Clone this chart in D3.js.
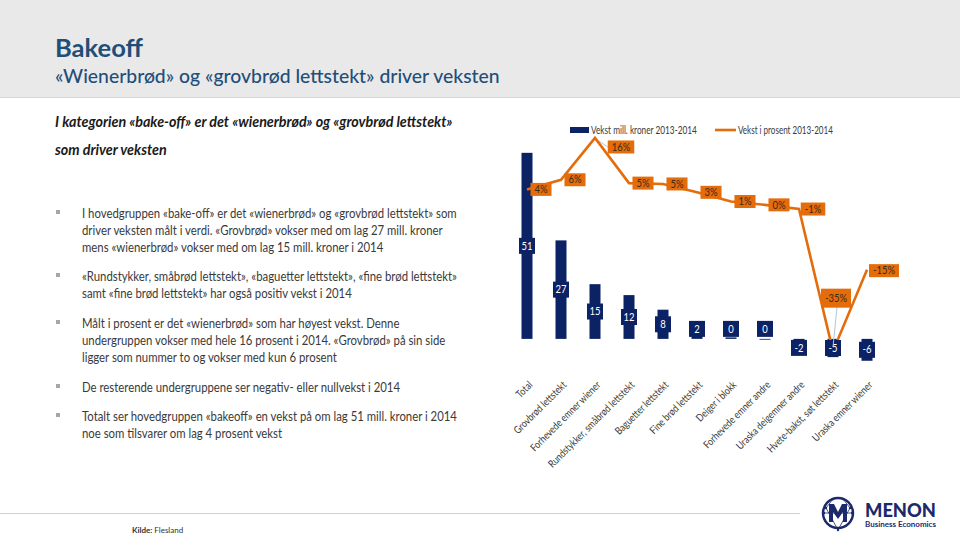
<!DOCTYPE html>
<html><head><meta charset="utf-8">
<script src="https://cdn.jsdelivr.net/npm/d3@7"></script>
<style>
html,body{margin:0;padding:0;background:#fff;}
svg{display:block;font-family:Lato,"Open Sans",sans-serif;}
</style></head>
<body>
<script>
const categories = ["Total","Grovbrød lettstekt","Forhevede emner wiener","Rundstykker, småbrød lettstekt","Baguetter lettstekt","Fine brød lettstekt","Deiger i blokk","Forhevede emner andre","Uraska deigemner andre","Hvete-bakst, søt lettstekt","Uraska emner wiener"];
const growthMNOK = [51, 27, 15, 12, 8, 2, 0.4, 0, -2, -5, -6];
const growthPct = [3.7, 6.0, 16.0, 5.2, 5.0, 3.0, 0.8, 0.0, -1.0, -35.0, -15.5];
const seriesNames = ["Vekst mill. kroner 2013-2014", "Vekst i prosent 2013-2014"];
const titleText = "Bakeoff";
const subtitleText = "«Wienerbrød» og «grovbrød lettstekt» driver veksten";
const leadLines = ["I kategorien «bake-off» er det «wienerbrød» og «grovbrød lettstekt»", "som driver veksten"];
const bullets = [
  ["I hovedgruppen «bake-off» er det «wienerbrød» og «grovbrød lettstekt» som", "driver veksten målt i verdi. «Grovbrød» vokser med om lag 27 mill. kroner", "mens «wienerbrød» vokser med om lag 15 mill. kroner i 2014"],
  ["«Rundstykker, småbrød lettstekt», «baguetter lettstekt», «fine brød lettstekt»", "samt «fine brød lettstekt» har også positiv vekst i 2014"],
  ["Målt i prosent er det «wienerbrød» som har høyest vekst. Denne", "undergruppen vokser med hele 16 prosent i 2014. «Grovbrød» på sin side", "ligger som nummer to og vokser med kun 6 prosent"],
  ["De resterende undergruppene ser negativ- eller nullvekst i 2014"],
  ["Totalt ser hovedgruppen «bakeoff» en vekst på om lag 51 mill. kroner i 2014", "noe som tilsvarer om lag 4 prosent vekst"]
];

const W = 960, H = 541;
const NAVY = "#0b2265", ORANGE = "#e46c0a", TXT = "#3a3a3a";
const svg = d3.select("body").append("svg").attr("width", W).attr("height", H);

// horizontal scale factor so that text of given size reaches target width
function sxFor(txt, size, target, weight, style) {
  const p = svg.append("text").attr("font-size", size).attr("font-weight", weight || 400).attr("font-style", style || "normal").text(txt);
  const w = p.node().getComputedTextLength();
  p.remove();
  return target / w;
}
function stext(parent, x, y, txt, size, sx, weight, style, fill) {
  return parent.append("text").attr("transform", `translate(${x},${y}) scale(${sx},1)`)
    .attr("font-size", size).attr("font-weight", weight || 400).attr("font-style", style || "normal")
    .attr("fill", fill || TXT).text(txt);
}

// header band
svg.append("rect").attr("x",0).attr("y",0).attr("width",W).attr("height",97).attr("fill","#e9e9e9");
svg.append("line").attr("x1",0).attr("x2",W).attr("y1",97.5).attr("y2",97.5).attr("stroke","#d6d6d6");
stext(svg, 55, 57, titleText, 25, sxFor(titleText, 25, 88, 700), 700, "normal", "#1f4e79");
stext(svg, 55, 83, subtitleText, 20, sxFor(subtitleText, 20, 445, 500), 500, "normal", "#1f4e79");

// lead (bold italic)
const leadSx = sxFor(leadLines[0], 14.5, 398, 700, "italic");
leadLines.forEach((ln, j) => stext(svg, 55, 127 + j*28, ln, 14.5, leadSx, 700, "italic", "#1a1a1a"));

// bullets
const bulletY = [213, 276, 323, 387, 416];
const bSize = 13.2;
const bSx = sxFor(bullets[0][0], bSize, 375);
bullets.forEach((lines, i) => {
  const y0 = bulletY[i];
  svg.append("rect").attr("x",56).attr("y",y0-3).attr("width",4).attr("height",4).attr("fill","#a6a6a6");
  lines.forEach((ln, j) => stext(svg, 82, y0 + 4.5 + j*17.3, ln, bSize, bSx));
});

// bottom line + source
svg.append("line").attr("x1",0).attr("x2",800).attr("y1",513.5).attr("y2",513.5).attr("stroke","#d0d0d0");
const src = svg.append("text").attr("x",132).attr("y",533).attr("font-size",8).attr("fill","#333");
src.append("tspan").attr("font-weight",700).text("Kilde: ");
src.append("tspan").text("Flesland");

// scales
const x = d3.scalePoint().domain(categories).range([510, 884]).padding(0.5);
const yL = d3.scaleLinear().domain([-9.9, 60]).range([375, 120]);
const yR = d3.scaleLinear().domain([-40.7, 20.3]).range([375, 120]);
const barW = 11;

// bars
const bars = svg.append("g");
categories.forEach((c, i) => {
  const v = growthMNOK[i];
  const y0 = yL(0), y1 = yL(v);
  bars.append("rect").attr("x", x(c) - barW/2).attr("y", Math.min(y0,y1)).attr("width", barW).attr("height", Math.max(0.8, Math.abs(y1-y0))).attr("fill", NAVY);
});

// x axis labels
const axSize = 10.5;
const axSx = sxFor(categories[3], axSize, 117);
const ax = svg.append("g").attr("transform","translate(0,378)").call(d3.axisBottom(x).tickSize(0));
ax.select(".domain").remove();
ax.selectAll("text").attr("x",0).attr("y",0).attr("dy","0.35em").attr("font-family","Lato, sans-serif").attr("fill",TXT)
  .attr("font-size", axSize).attr("text-anchor","end").attr("transform",`translate(3,5) rotate(-45) scale(${axSx},1)`);

// line
const pts = categories.map((c, i) => [x(c), yR(growthPct[i])]);
svg.append("path").attr("d", d3.line()(pts)).attr("fill","none").attr("stroke",ORANGE).attr("stroke-width",2.6).attr("stroke-linejoin","miter");

// bar labels
const bl = svg.append("g");
categories.forEach((c, i) => {
  const v = growthMNOK[i];
  const y0 = yL(0), y1 = yL(v);
  const h = Math.abs(y1 - y0);
  const bh = 16, bw = 16;
  let cy;
  if (h >= bh + 2) cy = (y0 + y1) / 2;
  else cy = v < 0 ? y0 + 1 + bh/2 : y0 - 2 - bh/2;
  bl.append("rect").attr("x", x(c) - bw/2).attr("y", cy - bh/2).attr("width", bw).attr("height", bh).attr("fill", NAVY);
  bl.append("text").attr("x", x(c)).attr("y", cy).attr("dy","0.35em").attr("text-anchor","middle").attr("font-size",10.5)
    .attr("transform", `translate(${x(c)},0) scale(0.9,1) translate(${-x(c)},0)`).attr("fill","#fff").text(String(Math.round(v)));
});

// line labels
const ll = svg.append("g");
categories.forEach((c, i) => {
  const v = growthPct[i];
  const px = x(c), py = yR(v);
  let cx = px + 14, cy = py;
  const txt = String(Math.round(v)) + "%";
  if (i === 2) { cx = px + 26; cy = py + 9; }
  if (i === 9) { cx = px + 3; cy = py - 53; }
  if (i === 10) { cx = px + 17; cy = py + 1; }
  const t = ll.append("text").attr("transform", `translate(${cx},${cy}) scale(0.9,1)`).attr("dy","0.35em").attr("text-anchor","middle").attr("font-size",10.5).attr("fill","#3b2a1a").text(txt);
  const tw = t.node().getComputedTextLength() * 0.9;
  const bw = tw + 8, bh = 13;
  if (i === 2) {
    ll.insert("line", "text").attr("x1", px + 4).attr("y1", py + 3).attr("x2", cx - bw/2).attr("y2", cy).attr("stroke","#b0b0b0").attr("stroke-width",0.8);
  }
  if (i === 9) {
    ll.insert("line", "text").attr("x1", cx + 1).attr("y1", cy + bh/2 + 2).attr("x2", px).attr("y2", py - 4).attr("stroke","#b8c4d6").attr("stroke-width",1);
  }
  ll.insert("rect", "text").attr("x", cx - bw/2).attr("y", cy - bh/2 - (i===9?3:0)).attr("width", bw).attr("height", bh + (i===9?6:0)).attr("fill", ORANGE);
});

// legend
const lg = svg.append("g");
lg.append("rect").attr("x",570).attr("y",127).attr("width",19).attr("height",6).attr("fill",NAVY);
stext(lg, 591, 133.5, seriesNames[0], 10.5, sxFor(seriesNames[0], 10.5, 106));
lg.append("line").attr("x1",715).attr("x2",736).attr("y1",130).attr("y2",130).attr("stroke",ORANGE).attr("stroke-width",2.6);
stext(lg, 738, 133.5, seriesNames[1], 10.5, sxFor(seriesNames[1], 10.5, 95));

// logo
const logo = svg.append("g");
const LC = "#1b2a6b";
logo.append("circle").attr("cx",838).attr("cy",513).attr("r",15).attr("fill","none").attr("stroke",LC).attr("stroke-width",2.5);
logo.append("path").attr("d","M826,508 L838,530 L850,508 M833,499 L826,508 M843,499 L850,508 M824,513 L852,513").attr("fill","none").attr("stroke",LC).attr("stroke-width",0.8);
logo.append("path").attr("d","M829,522 L829,504 L834,504 L838,512 L842,504 L847,504 L847,522 L843,522 L843,512 L838,519 L833,512 L833,522 Z").attr("fill",LC);
[[826,508],[850,508],[838,530],[833,499],[843,499],[824,513],[852,513]].forEach(p => logo.append("circle").attr("cx",p[0]).attr("cy",p[1]).attr("r",1.2).attr("fill",LC));
stext(logo, 865, 516.5, "MENON", 19, sxFor("MENON", 19, 71, 900), 900, "normal", LC);
stext(logo, 865, 526.5, "Business Economics", 7.5, sxFor("Business Economics", 7.5, 71, 700), 700, "normal", LC);
</script>
</body></html>
